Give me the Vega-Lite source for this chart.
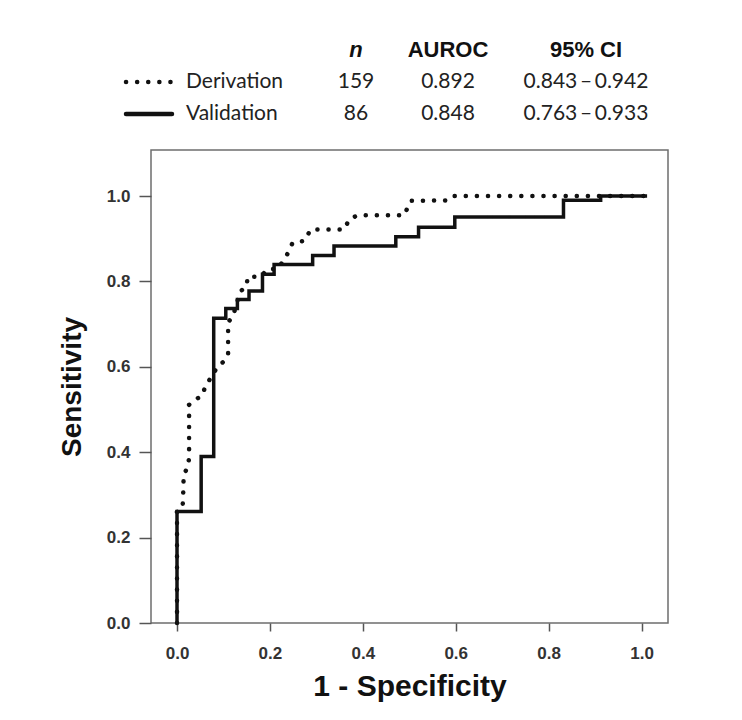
{
  "$schema": "https://vega.github.io/schema/vega-lite/v6.json",
  "autosize": {"type": "pad"},
  "padding": {"left": 57, "top": 39, "right": 75, "bottom": 18},
  "background": "white",
  "datasets": {
    "derivation": [
      {"i": 1, "fpr": 0, "tpr": 0},
      {"i": 2, "fpr": 0, "tpr": 0.26},
      {"i": 3, "fpr": 0.012, "tpr": 0.27},
      {"i": 4, "fpr": 0.014, "tpr": 0.32},
      {"i": 5, "fpr": 0.014, "tpr": 0.345},
      {"i": 6, "fpr": 0.023, "tpr": 0.366},
      {"i": 7, "fpr": 0.026, "tpr": 0.386},
      {"i": 8, "fpr": 0.026, "tpr": 0.511},
      {"i": 9, "fpr": 0.037, "tpr": 0.521},
      {"i": 10, "fpr": 0.055, "tpr": 0.534},
      {"i": 11, "fpr": 0.06, "tpr": 0.552},
      {"i": 12, "fpr": 0.087, "tpr": 0.6},
      {"i": 13, "fpr": 0.1, "tpr": 0.612},
      {"i": 14, "fpr": 0.11, "tpr": 0.628},
      {"i": 15, "fpr": 0.11, "tpr": 0.705},
      {"i": 16, "fpr": 0.12, "tpr": 0.717},
      {"i": 17, "fpr": 0.136, "tpr": 0.776},
      {"i": 18, "fpr": 0.15, "tpr": 0.79},
      {"i": 19, "fpr": 0.152, "tpr": 0.811},
      {"i": 20, "fpr": 0.18, "tpr": 0.811},
      {"i": 21, "fpr": 0.195, "tpr": 0.829},
      {"i": 22, "fpr": 0.216, "tpr": 0.829},
      {"i": 23, "fpr": 0.234, "tpr": 0.856},
      {"i": 24, "fpr": 0.249, "tpr": 0.891},
      {"i": 25, "fpr": 0.274, "tpr": 0.895},
      {"i": 26, "fpr": 0.288, "tpr": 0.922},
      {"i": 27, "fpr": 0.36, "tpr": 0.922},
      {"i": 28, "fpr": 0.371, "tpr": 0.946},
      {"i": 29, "fpr": 0.389, "tpr": 0.955},
      {"i": 30, "fpr": 0.489, "tpr": 0.955},
      {"i": 31, "fpr": 0.503, "tpr": 0.989},
      {"i": 32, "fpr": 0.582, "tpr": 0.99},
      {"i": 33, "fpr": 0.593, "tpr": 1.0},
      {"i": 34, "fpr": 1.012, "tpr": 1.0}
    ],
    "validation": [
      {"i": 1, "fpr": 0, "tpr": 0},
      {"i": 2, "fpr": 0, "tpr": 0.261},
      {"i": 3, "fpr": 0.052, "tpr": 0.39},
      {"i": 4, "fpr": 0.079, "tpr": 0.714},
      {"i": 5, "fpr": 0.105, "tpr": 0.737},
      {"i": 6, "fpr": 0.13, "tpr": 0.758},
      {"i": 7, "fpr": 0.155, "tpr": 0.778},
      {"i": 8, "fpr": 0.184, "tpr": 0.817},
      {"i": 9, "fpr": 0.209, "tpr": 0.84},
      {"i": 10, "fpr": 0.292, "tpr": 0.861},
      {"i": 11, "fpr": 0.338, "tpr": 0.883},
      {"i": 12, "fpr": 0.471, "tpr": 0.905},
      {"i": 13, "fpr": 0.52, "tpr": 0.927},
      {"i": 14, "fpr": 0.598, "tpr": 0.951},
      {"i": 15, "fpr": 0.832, "tpr": 0.99},
      {"i": 16, "fpr": 0.912, "tpr": 1.0},
      {"i": 17, "fpr": 1.012, "tpr": 1.0}
    ],
    "table": [
      {"series": "Derivation", "n": "159", "auroc": "0.892", "ci": "0.843\u2009–\u20090.942"},
      {"series": "Validation", "n": "86", "auroc": "0.848", "ci": "0.763\u2009–\u20090.933"}
    ],
    "headers": [
      {"col": "n", "label": "n"},
      {"col": "AUROC", "label": "AUROC"},
      {"col": "CI", "label": "95% CI"}
    ]
  },
  "config": {
    "axis": {
      "grid": false,
      "domain": false,
      "labelFont": "Liberation Sans",
      "labelFontWeight": "bold",
      "labelFontSize": 17,
      "labelColor": "#333333",
      "tickColor": "#555555",
      "tickWidth": 1.5,
      "titleFont": "Liberation Sans",
      "titleFontWeight": "bold",
      "titleColor": "#111111"
    }
  },
  "vconcat": [
    {
      "width": 517,
      "height": 64,
      "view": {"stroke": null},
      "data": {"name": "table"},
      "encoding": {
        "y": {"field": "series", "type": "nominal", "scale": {"type": "point", "domain": ["header", "Derivation", "Validation"], "padding": 0}, "axis": null}
      },
      "layer": [
        {
          "mark": {"type": "rule", "strokeWidth": 4.5, "strokeCap": "round", "color": "#111111"},
          "encoding": {
            "x": {"datum": "c0", "type": "nominal", "scale": {"type": "point", "domain": ["c0", "c1", "c2", "c3", "c4", "n", "c6", "AUROC", "c8", "c9", "CI"], "range": [-25, 435], "padding": 0}, "axis": null},
            "x2": {"datum": "c1"},
            "strokeDash": {"field": "series", "type": "nominal", "scale": {"domain": ["Derivation", "Validation"], "range": [[0.1, 11], [1, 0]]}, "legend": null}
          }
        },
        {
          "mark": {"type": "text", "align": "left", "baseline": "middle", "dx": 14, "font": "Lato", "fontSize": 21, "color": "#222222"},
          "encoding": {"x": {"datum": "c1", "type": "nominal"}, "text": {"field": "series", "type": "nominal"}}
        },
        {
          "mark": {"type": "text", "align": "center", "baseline": "middle", "font": "Lato", "fontSize": 21, "color": "#222222"},
          "encoding": {"x": {"datum": "n", "type": "nominal"}, "text": {"field": "n", "type": "nominal"}}
        },
        {
          "mark": {"type": "text", "align": "center", "baseline": "middle", "font": "Lato", "fontSize": 21, "color": "#222222"},
          "encoding": {"x": {"datum": "AUROC", "type": "nominal"}, "text": {"field": "auroc", "type": "nominal"}}
        },
        {
          "mark": {"type": "text", "align": "center", "baseline": "middle", "font": "Lato", "fontSize": 21, "color": "#222222"},
          "encoding": {"x": {"datum": "CI", "type": "nominal"}, "text": {"field": "ci", "type": "nominal"}}
        },
        {
          "data": {"name": "headers"},
          "transform": [{"filter": "datum.col === 'n'"}],
          "mark": {"type": "text", "align": "center", "baseline": "middle", "font": "Liberation Sans", "fontWeight": "bold", "fontStyle": "italic", "fontSize": 22, "color": "#111111"},
          "encoding": {"x": {"field": "col", "type": "nominal"}, "y": {"datum": "header", "type": "nominal"}, "text": {"field": "label", "type": "nominal"}}
        },
        {
          "data": {"name": "headers"},
          "transform": [{"filter": "datum.col !== 'n'"}],
          "mark": {"type": "text", "align": "center", "baseline": "middle", "font": "Liberation Sans", "fontWeight": "bold", "fontSize": 22, "color": "#111111"},
          "encoding": {"x": {"field": "col", "type": "nominal"}, "y": {"datum": "header", "type": "nominal"}, "text": {"field": "label", "type": "nominal"}}
        }
      ]
    },
    {
      "width": 517,
      "height": 473,
      "view": {"stroke": "#6e6e6e", "strokeWidth": 1.5},
      "encoding": {
        "x": {
          "field": "fpr", "type": "quantitative",
          "scale": {"domain": [-0.056, 1.057], "nice": false, "zero": false},
          "axis": {"values": [0, 0.2, 0.4, 0.6, 0.8, 1.0], "format": ".1f", "title": "1 - Specificity", "tickSize": 8, "labelPadding": 14, "titleFontSize": 30, "titlePadding": 10}
        },
        "y": {
          "field": "tpr", "type": "quantitative",
          "scale": {"domain": [0, 1.108], "nice": false, "zero": false},
          "axis": {"values": [0, 0.2, 0.4, 0.6, 0.8, 1.0], "format": ".1f", "title": "Sensitivity", "tickSize": 12, "labelPadding": 9, "titleFontSize": 28, "titlePadding": 20}
        },
        "order": {"field": "i", "type": "quantitative"}
      },
      "layer": [
        {
          "data": {"name": "derivation"},
          "mark": {"type": "line", "interpolate": "linear", "strokeWidth": 4.5, "strokeCap": "round", "color": "#111111"},
          "encoding": {"strokeDash": {"datum": "Derivation", "type": "nominal", "scale": {"domain": ["Derivation", "Validation"], "range": [[0.1, 11], [1, 0]]}, "legend": null}}
        },
        {
          "data": {"name": "validation"},
          "mark": {"type": "line", "interpolate": "step-after", "strokeWidth": 3.5, "color": "#111111"},
          "encoding": {"strokeDash": {"datum": "Validation", "type": "nominal", "scale": {"domain": ["Derivation", "Validation"], "range": [[0.1, 11], [1, 0]]}, "legend": null}}
        }
      ]
    }
  ],
  "spacing": 36,
  "bounds": "flush"
}
